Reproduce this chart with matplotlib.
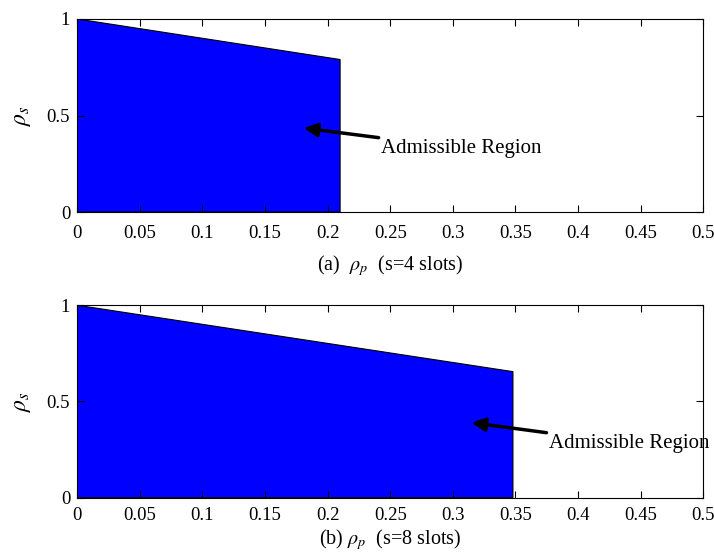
import matplotlib
matplotlib.use('Agg')
import matplotlib.pyplot as plt
from matplotlib.patches import Polygon

# admissible region corners (rho_p, rho_s)
rp_a = [0, 0, 0.21, 0.21]
rs_a = [0, 1, 0.79, 0]
rp_b = [0, 0, 0.348, 0.348]
rs_b = [0, 1, 0.655, 0]
xticks = [0, 0.05, 0.1, 0.15, 0.2, 0.25, 0.3, 0.35, 0.4, 0.45, 0.5]
yticks = [0, 0.5, 1]

plt.rcParams.update({'font.family': 'Liberation Serif', 'font.size': 13.5,
                     'mathtext.fontset': 'stix',
                     'xtick.direction': 'in', 'ytick.direction': 'in',
                     'xtick.top': True, 'ytick.right': True})

fig = plt.figure(figsize=(7.14, 5.58), dpi=100)
ax1 = fig.add_axes([0.108, 0.620, 0.877, 0.346])
ax2 = fig.add_axes([0.108, 0.108, 0.877, 0.345])

panels = [(ax1, rp_a, rs_a, '(a)  $\\rho_p$  (s=4 slots)', (0.181, 0.435), (0.243, 0.33), 9, 8),
          (ax2, rp_b, rs_b, '(b) $\\rho_p$  (s=8 slots)', (0.315, 0.39), (0.377, 0.28), 7, 2)]

for ax, xs, ys, lab, head, txt, tp, lp in panels:
    ax.add_patch(Polygon(list(zip(xs, ys)), closed=True, facecolor='#0000ff',
                         edgecolor='black', lw=0.8))
    ax.set_xlim(0, 0.5)
    ax.set_ylim(0, 1)
    ax.set_xticks(xticks)
    ax.set_xticklabels([f'{v:g}' for v in xticks])
    ax.set_yticks(yticks)
    ax.set_yticklabels([f'{v:g}' for v in yticks])
    ax.tick_params(length=5, width=0.8)
    ax.tick_params(axis='x', pad=tp)
    ax.tick_params(axis='y', pad=5)
    ax.set_xlabel(lab, fontsize=14.5, labelpad=lp)
    ax.set_ylabel('$\\rho_s$', fontsize=17, labelpad=10)
    ax.annotate('Admissible Region', xy=head, xytext=txt, va='center', ha='left',
                fontsize=15,
                arrowprops=dict(arrowstyle='-|>', color='black', lw=2.5,
                                mutation_scale=20, shrinkA=0, shrinkB=0))

fig.savefig('out.png', dpi=100)
